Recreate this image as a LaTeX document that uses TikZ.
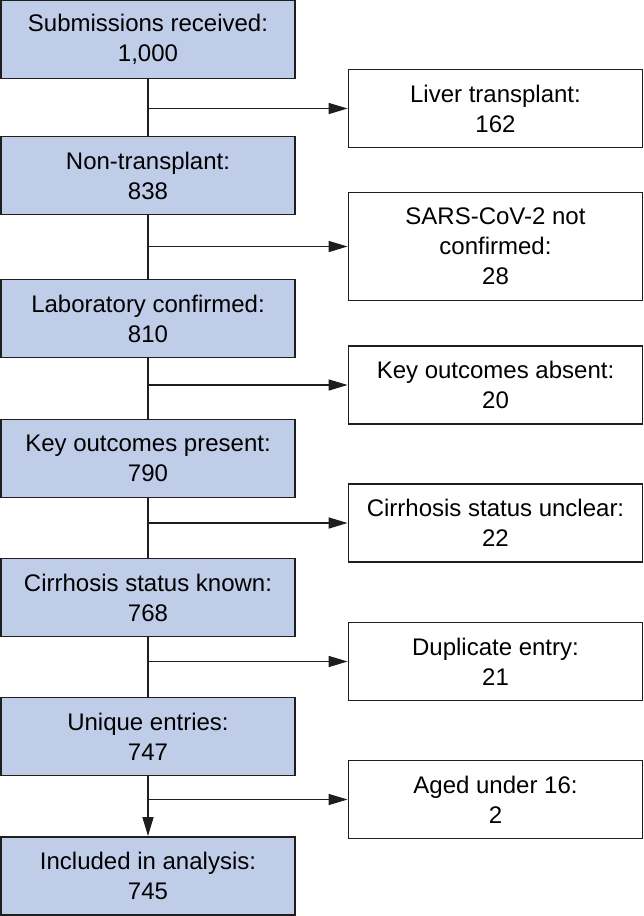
\documentclass[tikz,border=0pt]{standalone}
\usepackage{fontspec}
\setmainfont{Liberation Sans}
\usetikzlibrary{arrows.meta}
\definecolor{boxfill}{RGB}{192,205,232}
\definecolor{edge}{RGB}{30,30,30}
\begin{document}
\begin{tikzpicture}[x=1pt,y=1pt,
  every node/.style={font=\fontsize{24}{30}\selectfont, align=center, inner sep=0pt},
  mainbox/.style={draw=edge, line width=1.8pt, fill=boxfill, minimum width=294pt, minimum height=78pt},
  sidebox/.style={draw=edge, line width=1.8pt, fill=white, minimum width=294pt, minimum height=78pt},
  conn/.style={draw=edge, line width=1.4pt},
  arr/.style={conn, -{Triangle[length=19pt,width=11pt]}}]
\useasboundingbox (0,0) rectangle (644,-916);
\node[mainbox] (m1) at (148,-39.5) {Submissions received:\\1,000};
\node[mainbox] (m2) at (148,-175.5) {Non-transplant:\\838};
\node[mainbox] (m3) at (148,-318.5) {Laboratory confirmed:\\810};
\node[mainbox] (m4) at (148,-458.5) {Key outcomes present:\\790};
\node[mainbox] (m5) at (148,-597.5) {Cirrhosis status known:\\768};
\node[mainbox] (m6) at (148,-736.5) {Unique entries:\\747};
\node[mainbox] (m7) at (148,-876) {Included in analysis:\\745};
\node[sidebox] (s1) at (495.5,-108.5) {Liver transplant:\\162};
\node[sidebox, minimum height=108pt] (s2) at (495.5,-246.5) {SARS-CoV-2 not\\confirmed:\\28};
\node[sidebox] (s3) at (495.5,-385) {Key outcomes absent:\\20};
\node[sidebox] (s4) at (495.5,-523) {Cirrhosis status unclear:\\22};
\node[sidebox] (s5) at (495.5,-661.5) {Duplicate entry:\\21};
\node[sidebox] (s6) at (495.5,-799.5) {Aged under 16:\\2};
\draw[conn] (m1.south) -- (m2.north);
\draw[conn] (m2.south) -- (m3.north);
\draw[conn] (m3.south) -- (m4.north);
\draw[conn] (m4.south) -- (m5.north);
\draw[conn] (m5.south) -- (m6.north);
\draw[arr] (m6.south) -- (m7.north);
\draw[arr] (m1.south |- s1.west) -- (s1.west);
\draw[arr] (m2.south |- s2.west) -- (s2.west);
\draw[arr] (m3.south |- s3.west) -- (s3.west);
\draw[arr] (m4.south |- s4.west) -- (s4.west);
\draw[arr] (m5.south |- s5.west) -- (s5.west);
\draw[arr] (m6.south |- s6.west) -- (s6.west);
\end{tikzpicture}
\end{document}
